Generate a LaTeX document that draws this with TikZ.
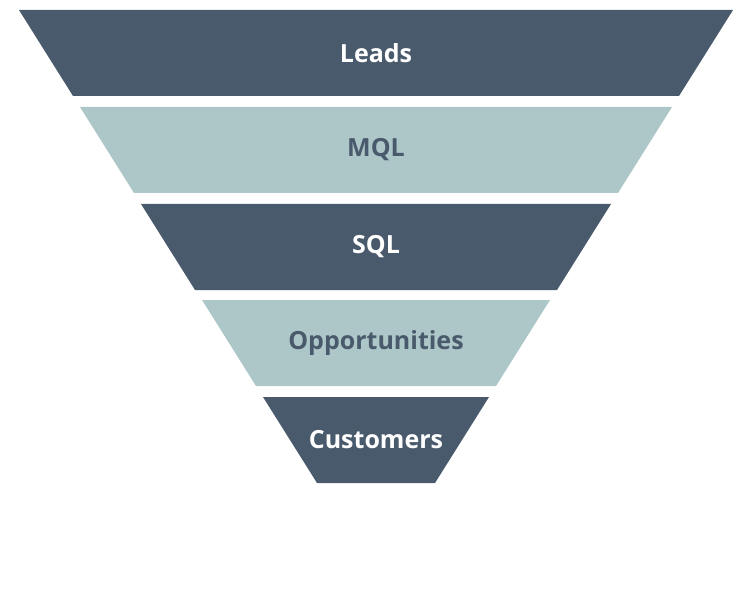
\documentclass[tikz,border=0pt]{standalone}
\usepackage{fontspec}
\setmainfont{Open Sans}
\definecolor{FunnelDark}{HTML}{4A5A6D}
\definecolor{FunnelLight}{HTML}{ADC6C8}
\tikzset{
  darkband/.style={fill=FunnelDark},
  lightband/.style={fill=FunnelLight},
  darklabel/.style={text=white,font=\fontsize{25}{30}\selectfont\bfseries},
  lightlabel/.style={text=FunnelDark,font=\fontsize{25}{30}\selectfont\bfseries}
}
\begin{document}
\begin{tikzpicture}[x=1pt,y=-1pt]
  \useasboundingbox (0,0) rectangle (752,596);

  % funnel bands: top y, half width at top
  \foreach \y/\w/\band/\lab/\name/\txt in {
      10/357/darkband/darklabel/leads/Leads,
      107/296/lightband/lightlabel/mql/MQL,
      204/235/darkband/darklabel/sql/SQL,
      300/174/lightband/lightlabel/opps/Opportunities,
      397/113/darkband/darklabel/customers/Customers}{
    \fill[\band] (376-\w,\y) -- (376+\w,\y) -- (376+\w-54,\y+86) -- (376-\w+54,\y+86) -- cycle;
    \node[\lab] (\name) at (376,\y+43) {\txt};
  }
\end{tikzpicture}
\end{document}
